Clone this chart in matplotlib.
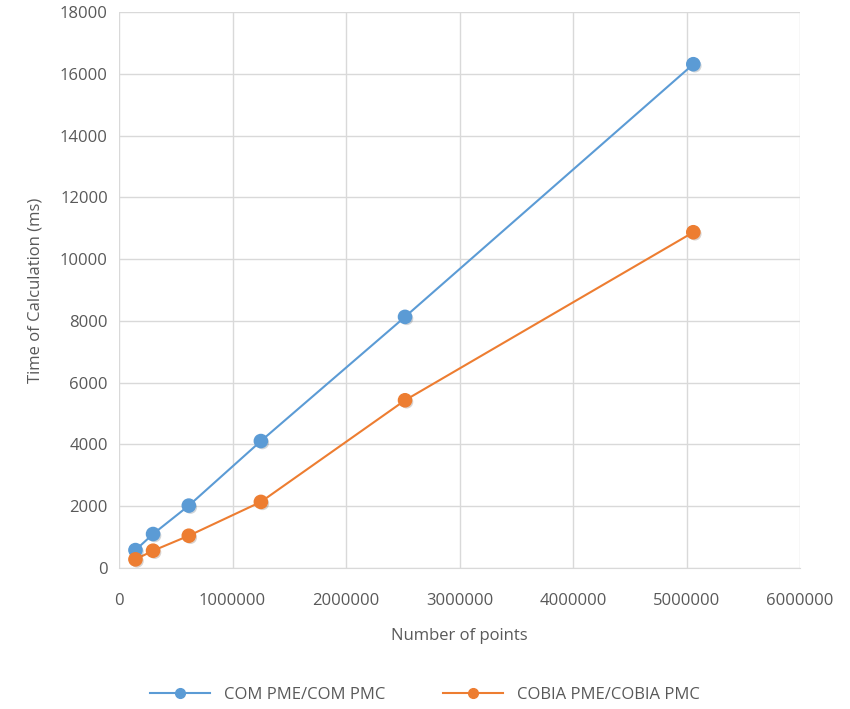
import matplotlib.pyplot as plt
import matplotlib.patheffects as pe
from matplotlib.ticker import MultipleLocator

# Number of points and calculation times (ms)
n_points = [145000, 300000, 615000, 1250000, 2520000, 5060000]
t_com = [580, 1100, 2020, 4110, 8130, 16310]
t_cobia = [280, 560, 1045, 2140, 5430, 10870]

blue = '#5B9BD5'
orange = '#ED7D31'
grey = '#595959'

plt.rcParams['font.family'] = ['Open Sans', 'DejaVu Sans']

fig = plt.figure(figsize=(8.5, 7.09), dpi=100)
ax = fig.add_axes([119 / 850, 1 - 568 / 709, 681 / 850, 556 / 709])

shadow = [pe.SimplePatchShadow(offset=(1.2, -1.2), alpha=0.2), pe.Normal()]
for y, c, name in [(t_com, blue, 'COM PME/COM PMC'),
                   (t_cobia, orange, 'COBIA PME/COBIA PMC')]:
    ax.plot(n_points, y, color=c, lw=1.5, zorder=3)
    ax.plot(n_points, y, ls='none', marker='o', ms=9.5, color=c, mec=c,
            path_effects=shadow, zorder=4)
    # legend proxy
    ax.plot([], [], color=c, lw=1.5, marker='o', ms=7, label=name)

ax.set_xlim(0, 6000000)
ax.set_ylim(0, 18000)
ax.xaxis.set_major_locator(MultipleLocator(1000000))
ax.yaxis.set_major_locator(MultipleLocator(2000))
ax.ticklabel_format(style='plain')

ax.grid(True, color='#D9D9D9', lw=1)
ax.set_axisbelow(True)
for s in ['top', 'right', 'left']:
    ax.spines[s].set_visible(False)
ax.spines['bottom'].set_color('#D9D9D9')
ax.tick_params(length=0, colors=grey, labelsize=12)
ax.tick_params(axis='x', pad=18)
ax.tick_params(axis='y', pad=8)

ax.set_xlabel('Number of points', color=grey, fontsize=12, labelpad=14)
ax.set_ylabel('Time of Calculation (ms)', color=grey, fontsize=12, labelpad=12)

leg = fig.legend(loc='center', bbox_to_anchor=(0.5, 1 - 695 / 709), ncol=2,
                 frameon=False, fontsize=12, columnspacing=3.5, handlelength=3.6)
for t in leg.get_texts():
    t.set_color(grey)

fig.savefig('out.png', dpi=100)
